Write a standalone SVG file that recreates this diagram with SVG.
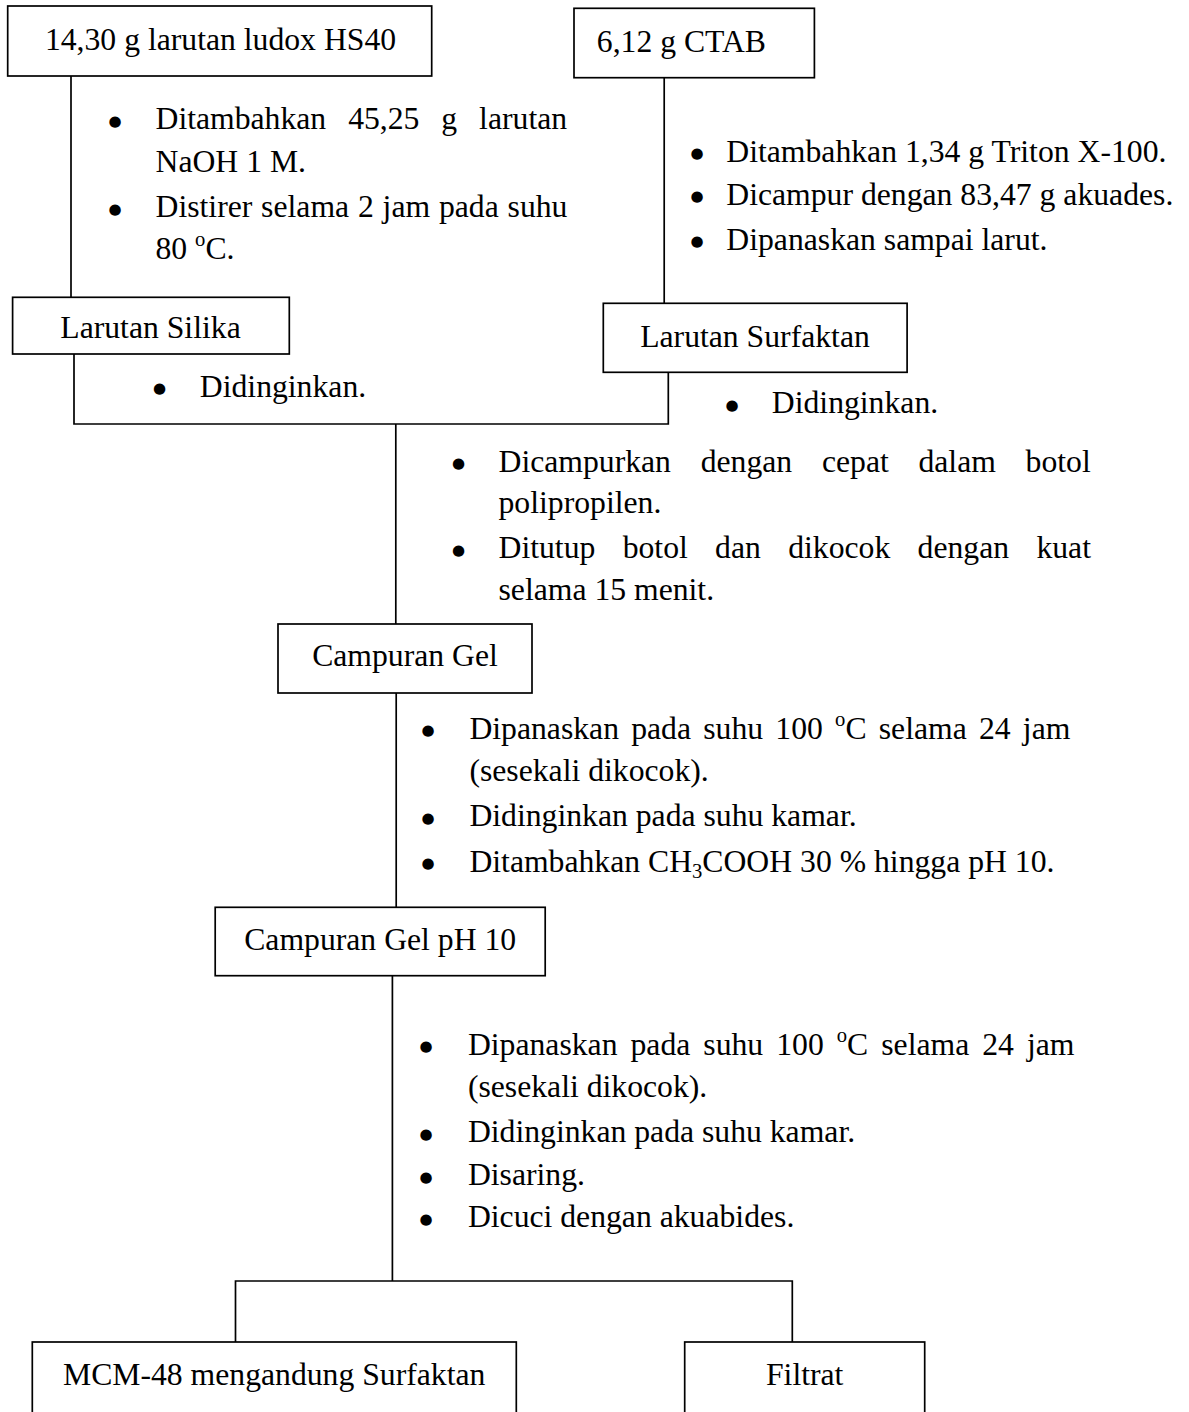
<svg xmlns="http://www.w3.org/2000/svg" width="1189" height="1412" viewBox="0 0 1189 1412">
<style>
.t{font-family:"Liberation Serif","Times New Roman",serif;font-size:31.7px;fill:#000}
.m{text-anchor:middle}
.b{font-family:"DejaVu Sans",sans-serif;font-size:15px;fill:#000;text-anchor:middle}
.box{fill:#fff;stroke:#000;stroke-width:1.7}
.c{fill:none;stroke:#000;stroke-width:1.7}
</style>
<rect width="1189" height="1412" fill="#fff"/>
<g id="connectors">
<path class="c" d="M71,76 V297.3"/>
<path class="c" d="M664.2,77.7 V303.3"/>
<path class="c" d="M74,354 V424 H668.3 V372.3"/>
<path class="c" d="M395.8,424 V624"/>
<path class="c" d="M396.2,693 V907.3"/>
<path class="c" d="M392.4,975.7 V1281 M235.5,1342 V1281 H792.3 V1342"/>
</g>
<g id="node-ludox">
<rect class="box" x="7.7" y="6" width="424" height="70"/>
<text class="t m" x="220.5" y="50">14,30 g larutan ludox HS40</text>
</g>
<g id="node-ctab">
<rect class="box" x="574" y="8.3" width="240.4" height="69.4"/>
<text class="t m" x="681.4" y="52">6,12 g CTAB</text>
</g>
<g id="node-silika">
<rect class="box" x="12.6" y="297.3" width="276.7" height="56.7"/>
<text class="t m" x="150.5" y="337.5">Larutan Silika</text>
</g>
<g id="node-surfaktan">
<rect class="box" x="603.3" y="303.3" width="303.8" height="69"/>
<text class="t m" x="755" y="347">Larutan Surfaktan</text>
</g>
<g id="node-gel">
<rect class="box" x="278" y="624" width="254" height="69"/>
<text class="t m" x="405" y="666">Campuran Gel</text>
</g>
<g id="node-gel-ph10">
<rect class="box" x="215.2" y="907.3" width="330" height="68.4"/>
<text class="t m" x="380.2" y="950">Campuran Gel pH 10</text>
</g>
<g id="node-mcm48">
<rect class="box" x="32.3" y="1342" width="484" height="90"/>
<text class="t m" x="274.2" y="1385">MCM-48 mengandung Surfaktan</text>
</g>
<g id="node-filtrat">
<rect class="box" x="684.7" y="1342" width="240" height="90"/>
<text class="t m" x="804.7" y="1385">Filtrat</text>
</g>
<g id="steps-silika">
<text class="b" x="115" y="125.7">●</text>
<text class="t" x="155.5" y="129.3" word-spacing="14">Ditambahkan 45,25 g larutan</text>
<text class="t" x="155.5" y="171.7">NaOH 1 M.</text>
<text class="b" x="115" y="213.7">●</text>
<text class="t" x="155.5" y="217.3" word-spacing="0.9">Distirer selama 2 jam pada suhu</text>
<text class="t" x="155.5" y="259.3">80 <tspan font-size="20.6" dy="-13">o</tspan><tspan dy="13">C.</tspan></text>
</g>
<g id="steps-silika-cool">
<text class="b" x="159.5" y="393.1">●</text>
<text class="t" x="199.8" y="396.7">Didinginkan.</text>
</g>
<g id="steps-surfaktan">
<text class="b" x="697" y="158.1">●</text>
<text class="t" x="726.3" y="161.7">Ditambahkan 1,34 g Triton X-100.</text>
<text class="b" x="697" y="201.4">●</text>
<text class="t" x="726.3" y="205">Dicampur dengan 83,47 g akuades.</text>
<text class="b" x="697" y="246.4">●</text>
<text class="t" x="726.3" y="250">Dipanaskan sampai larut.</text>
</g>
<g id="steps-surfaktan-cool">
<text class="b" x="732" y="409.7">●</text>
<text class="t" x="771.8" y="413.3">Didinginkan.</text>
</g>
<g id="steps-mix">
<text class="b" x="458.5" y="468.1">●</text>
<text class="t" x="498.5" y="471.7" word-spacing="21.8">Dicampurkan dengan cepat dalam botol</text>
<text class="t" x="498.5" y="513.3">polipropilen.</text>
<text class="b" x="458.5" y="554.7">●</text>
<text class="t" x="498.5" y="558.3" word-spacing="19.4">Ditutup botol dan dikocok dengan kuat</text>
<text class="t" x="498.5" y="600">selama 15 menit.</text>
</g>
<g id="steps-gel">
<text class="b" x="428" y="734.9">●</text>
<text class="t" x="469.4" y="738.5" word-spacing="4.3">Dipanaskan pada suhu 100 <tspan font-size="20.6" dy="-13">o</tspan><tspan dy="13">C selama 24 jam</tspan></text>
<text class="t" x="469.4" y="780.7">(sesekali dikocok).</text>
<text class="b" x="428" y="822.6">●</text>
<text class="t" x="469.4" y="826.2">Didinginkan pada suhu kamar.</text>
<text class="b" x="428" y="868.1">●</text>
<text class="t" x="469.4" y="871.7">Ditambahkan CH<tspan font-size="20.6" dy="6">3</tspan><tspan dy="-6">COOH 30 % hingga pH 10.</tspan></text>
</g>
<g id="steps-wash">
<text class="b" x="426" y="1051.4">●</text>
<text class="t" x="467.9" y="1055" word-spacing="5.1">Dipanaskan pada suhu 100 <tspan font-size="20.6" dy="-13">o</tspan><tspan dy="13">C selama 24 jam</tspan></text>
<text class="t" x="467.9" y="1097.2">(sesekali dikocok).</text>
<text class="b" x="426" y="1138.6">●</text>
<text class="t" x="467.9" y="1142.2">Didinginkan pada suhu kamar.</text>
<text class="b" x="426" y="1181.6">●</text>
<text class="t" x="467.9" y="1185.2">Disaring.</text>
<text class="b" x="426" y="1223.6">●</text>
<text class="t" x="467.9" y="1227.2">Dicuci dengan akuabides.</text>
</g>
</svg>
